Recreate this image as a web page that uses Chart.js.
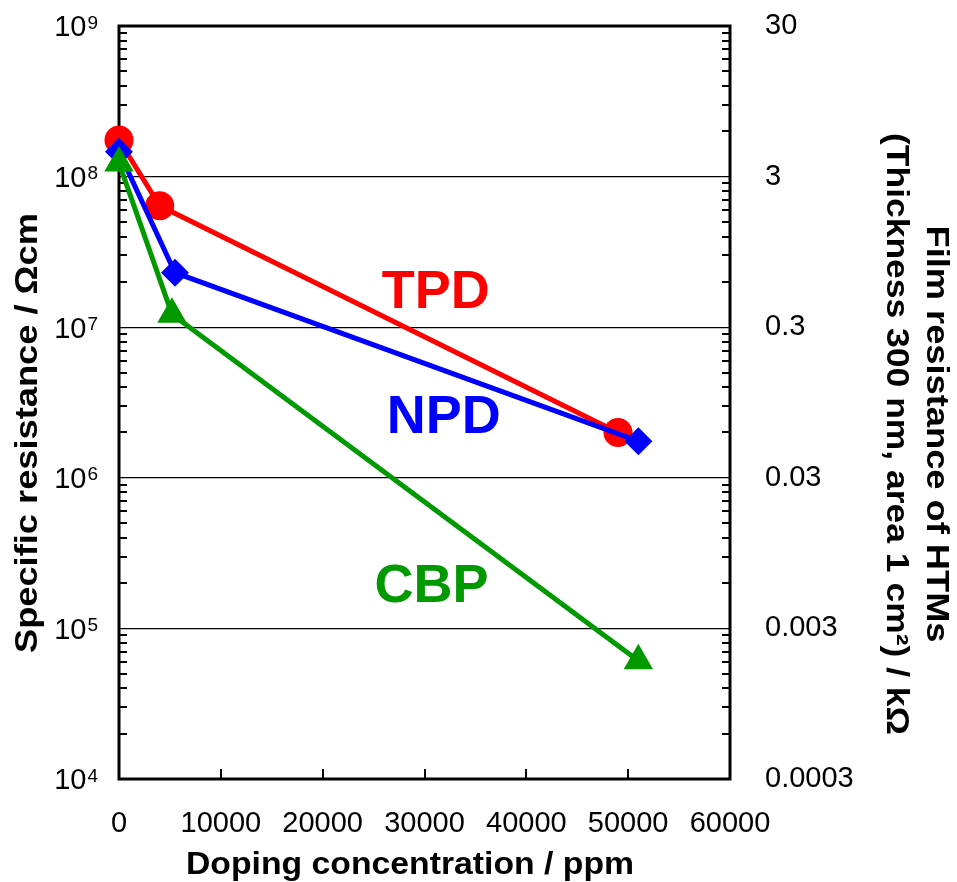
<!DOCTYPE html>
<html>
<head>
<meta charset="utf-8">
<script src="https://cdn.jsdelivr.net/npm/chart.js@4.4.0/dist/chart.umd.min.js"></script>
<style>
  html, body { margin: 0; padding: 0; background: #ffffff; }
  #wrap { width: 957px; height: 882px; }
</style>
</head>
<body>
<div id="wrap"><canvas id="chart" width="957" height="882"></canvas></div>
<script>
// Doping concentration (ppm) and specific resistance (Ω·cm) for each hole-transport material
const tpdPpm = [0, 4000, 49000];
const tpdRes = [1.75e8, 6.4e7, 2.0e6];
const npdPpm = [0, 5500, 51000];
const npdRes = [1.46e8, 2.3e7, 1.75e6];
const cbpPpm = [0, 5200, 51000];
const cbpRes = [1.23e8, 1.22e7, 6.1e4];

// Axis ticks
const xTickValues = [0, 10000, 20000, 30000, 40000, 50000, 60000];
const leftDecades = [4, 5, 6, 7, 8, 9];
const rightTickValues = [0.0003, 0.003, 0.03, 0.3, 3, 30];
const rightTickLabels = ['0.0003', '0.003', '0.03', '0.3', '3', '30'];

// In-plot series names, anchored in data units [ppm, Ω·cm]
const seriesNames = ['TPD', 'NPD', 'CBP'];
const nameAnchors = [[31100, 1.82e7], [31900, 2.69e6], [30700, 2.03e5]];
const seriesColors = ['#ff0000', '#0000ff', '#009900'];

const FONT = '"Liberation Sans", Arial, Helvetica, sans-serif';

function toPoints(xs, ys) { return xs.map((x, i) => ({ x: x, y: ys[i] })); }

function fittedText(ctx, text, x, y, angle, font, len) {
  ctx.save();
  ctx.translate(x, y);
  ctx.rotate(angle);
  ctx.font = font;
  const w = ctx.measureText(text).width;
  ctx.scale(len / w, 1);
  ctx.textAlign = 'center';
  ctx.textBaseline = 'alphabetic';
  ctx.fillText(text, 0, 0);
  ctx.restore();
}

const framePlugin = {
  id: 'frame',
  beforeDatasetsDraw(chart) {
    const ctx = chart.ctx;
    const a = chart.chartArea;
    const ys = chart.scales.y;
    const xs = chart.scales.x;
    ctx.save();
    ctx.strokeStyle = '#000';
    // minor log ticks, pointing inward on both vertical axes
    ctx.lineWidth = 2;
    ctx.beginPath();
    for (let n = 4; n < 9; n++) {
      for (let m = 2; m <= 9; m++) {
        const py = Math.round(ys.getPixelForValue(m * Math.pow(10, n)));
        ctx.moveTo(a.left, py); ctx.lineTo(a.left + 8, py);
        ctx.moveTo(a.right, py); ctx.lineTo(a.right - 8, py);
      }
    }
    // x ticks, pointing up
    xTickValues.forEach(v => {
      const px = Math.round(xs.getPixelForValue(v));
      ctx.moveTo(px, a.bottom); ctx.lineTo(px, a.bottom - 10);
    });
    ctx.stroke();
    // plot frame
    ctx.lineWidth = 3;
    ctx.lineJoin = 'miter';
    ctx.strokeRect(a.left, a.top, a.right - a.left, a.bottom - a.top);
    ctx.restore();
  },
  afterDraw(chart) {
    const ctx = chart.ctx;
    const a = chart.chartArea;
    const ys = chart.scales.y;
    const xs = chart.scales.x;
    ctx.save();
    ctx.fillStyle = '#000';
    // left decade labels: 10 with raised exponent
    leftDecades.forEach(n => {
      const py = ys.getPixelForValue(Math.pow(10, n));
      const xr = a.left - 21;
      ctx.textAlign = 'right';
      ctx.textBaseline = 'alphabetic';
      ctx.font = '19px ' + FONT;
      const exp = String(n);
      const ew = ctx.measureText(exp).width;
      ctx.fillText(exp, xr, py + 2.5);
      ctx.font = '29px ' + FONT;
      ctx.fillText('10', xr - ew - 1, py + 10.4);
    });
    // axis titles
    const tf = 'bold 31px ' + FONT;
    fittedText(ctx, 'Specific resistance / \u03A9cm', 37, 433, -Math.PI / 2, tf, 440);
    fittedText(ctx, 'Doping concentration / ppm', 410, 874, 0, tf, 448);
    fittedText(ctx, 'Film resistance of HTMs', 927, 434, Math.PI / 2, tf, 417);
    fittedText(ctx, '(Thickness 300 nm, area 1 cm\u00B2) / k\u03A9', 887, 434, Math.PI / 2, tf, 602);
    // series names
    ctx.font = 'bold 54px ' + FONT;
    ctx.textAlign = 'center';
    ctx.textBaseline = 'alphabetic';
    seriesNames.forEach((name, i) => {
      const px = xs.getPixelForValue(nameAnchors[i][0]);
      const py = ys.getPixelForValue(nameAnchors[i][1]);
      ctx.fillStyle = seriesColors[i];
      ctx.fillText(name, px, py + 19.5);
    });
    ctx.restore();
  }
};

function lineSet(label, data, color, style, radius) {
  return {
    label: label,
    data: data,
    borderColor: color,
    backgroundColor: color,
    borderWidth: 5,
    pointStyle: style,
    pointRadius: radius,
    pointBorderWidth: 0,
    pointBackgroundColor: color,
    pointBorderColor: color,
    tension: 0,
    fill: false,
    clip: false
  };
}

function fixedBox(size, horizontal) {
  return s => {
    if (horizontal) { s.height = size; } else { s.width = size; }
    s.paddingTop = 0; s.paddingBottom = 0;
    s.paddingLeft = 0; s.paddingRight = 0;
  };
}

new Chart(document.getElementById('chart'), {
  type: 'line',
  data: {
    datasets: [
      lineSet('CBP', toPoints(cbpPpm, cbpRes), seriesColors[2], 'triangle', 17),
      lineSet('NPD', toPoints(npdPpm, npdRes), seriesColors[1], 'rectRot', 14),
      lineSet('TPD', toPoints(tpdPpm, tpdRes), seriesColors[0], 'circle', 14.5)
    ]
  },
  options: {
    responsive: false,
    animation: false,
    devicePixelRatio: 1,
    layout: { padding: { top: 26, left: 0, right: 0, bottom: 0 } },
    plugins: { legend: { display: false }, tooltip: { enabled: false } },
    scales: {
      x: {
        type: 'linear',
        position: 'bottom',
        min: 0,
        max: 60000,
        afterBuildTicks: s => { s.ticks = xTickValues.map(v => ({ value: v })); },
        afterFit: fixedBox(103, true),
        grid: { display: false },
        border: { display: false },
        ticks: {
          color: '#000',
          font: { family: FONT, size: 29 },
          padding: 20,
          maxRotation: 0,
          autoSkip: false,
          callback: v => String(v)
        }
      },
      y: {
        type: 'logarithmic',
        position: 'left',
        min: 1e4,
        max: 1e9,
        afterBuildTicks: s => { s.ticks = leftDecades.map(n => ({ value: Math.pow(10, n) })); },
        afterFit: fixedBox(119, false),
        grid: { color: '#000', lineWidth: 1.3, drawTicks: false },
        border: { display: false },
        ticks: { display: false }
      },
      y2: {
        type: 'logarithmic',
        position: 'right',
        min: 0.0003,
        max: 30,
        afterBuildTicks: s => { s.ticks = rightTickValues.map(v => ({ value: v })); },
        afterFit: fixedBox(227, false),
        grid: { display: false },
        border: { display: false },
        ticks: {
          color: '#000',
          font: { family: FONT, size: 29 },
          padding: 27,
          autoSkip: false,
          callback: (v, i) => rightTickLabels[i]
        }
      }
    }
  },
  plugins: [framePlugin]
});
</script>
</body>
</html>
